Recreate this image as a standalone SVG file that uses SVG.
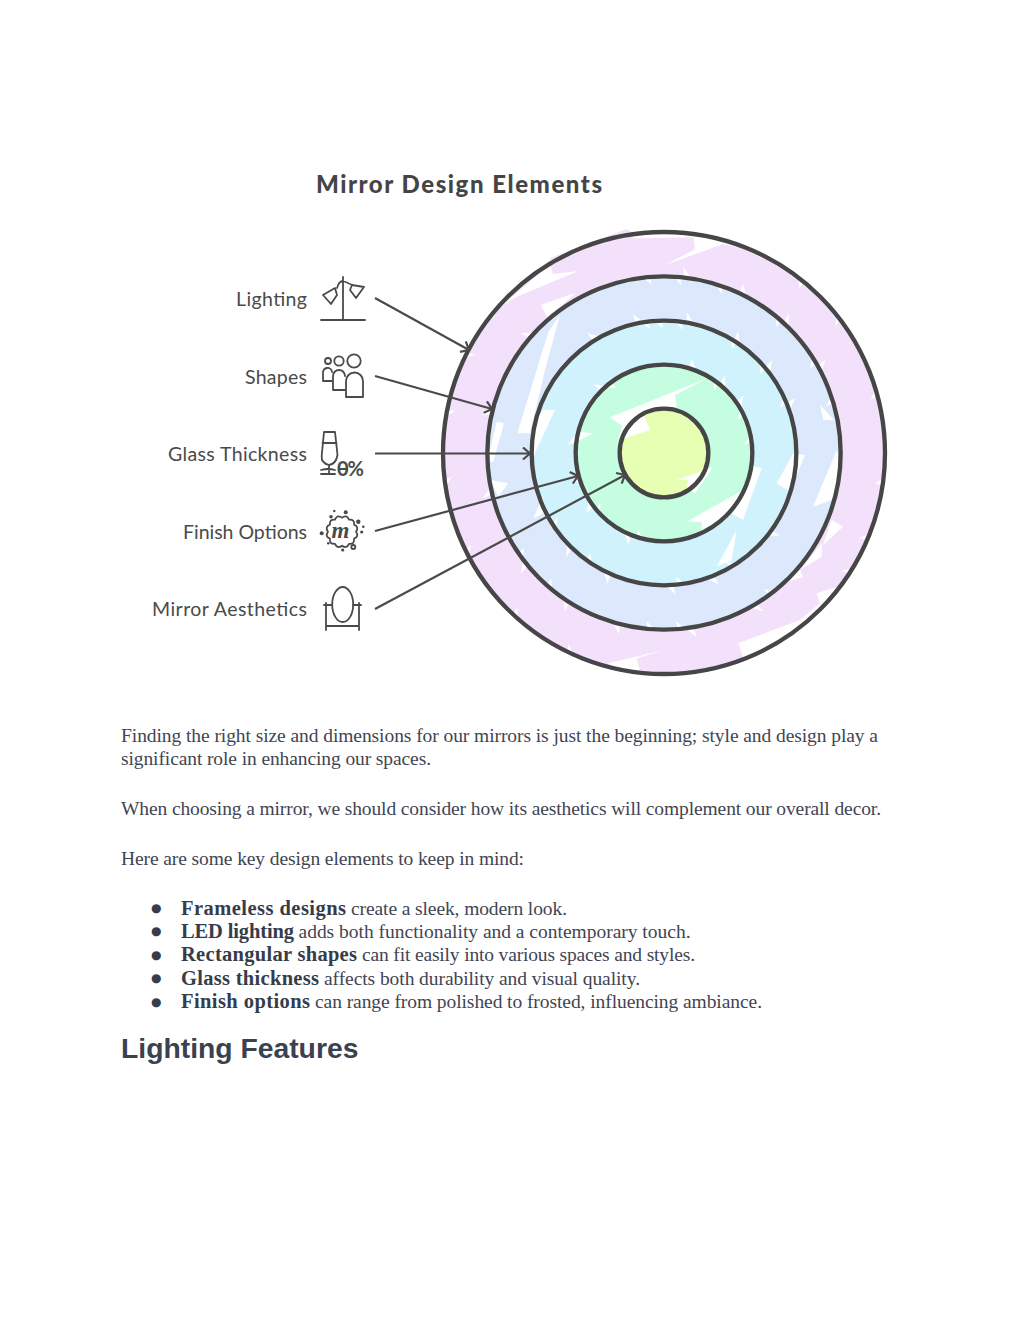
<svg xmlns="http://www.w3.org/2000/svg" width="1024" height="1325" viewBox="0 0 1024 1325">
<style>
.ttl{font-family:"Lato","Noto Sans",sans-serif;font-weight:900;font-size:24px;fill:#454545}
.lbl{font-family:"Lato","Noto Sans",sans-serif;font-size:19.500px;fill:#4a4a4a}
.b{font-family:"Liberation Serif","Times New Roman",serif;font-size:19.500px;fill:#3f4553}
.bb{font-family:"Liberation Serif","Times New Roman",serif;font-size:20.500px;font-weight:700;fill:#363c4a}
.dot{font-family:"DejaVu Sans",sans-serif;font-size:12px;fill:#363c4a}
.h{font-family:"Liberation Sans",Arial,sans-serif;font-size:28.300px;font-weight:700;fill:#3a4150}
.ring{stroke:#464646;stroke-width:13;fill:none}
.w{fill:#fff}
.ic{fill:none;stroke:#4a4a4a;stroke-width:1.800;stroke-linecap:round;stroke-linejoin:round}
.icf{fill:#4a4a4a}
.con{fill:none;stroke:#4a4a4a;stroke-width:2.200;marker-end:url(#arr)}
</style>
<defs>
<marker id="arr" markerUnits="userSpaceOnUse" markerWidth="14" markerHeight="14" refX="9" refY="7" orient="auto">
<path d="M2,1 L9,7 L2,13" fill="none" stroke="#4a4a4a" stroke-width="2.200"/>
</marker>
<path id="n" fill="#fff" d="M-12,-4 L12,-4 L17,24 Z"/>
<path id="o" fill="#fff" d="M-14,4 L12,4 L-20,-30 Z"/>
</defs>
<rect width="1024" height="1325" fill="#fff"/>
<text class="ttl" x="316" y="193" textLength="286" lengthAdjust="spacing">Mirror Design Elements</text>

<g id="rings" transform="translate(430 220) scale(.33333)">
<g id="ring-lighting">
<circle cx="702" cy="699" r="663" fill="#f3e1fb"/>
<polygon points="360,114 590,27 620,45 370,135" fill="#f3e1fb"/>
<g transform="translate(702 699)">
<use href="#n" transform="rotate(38) translate(0 -663)"/><use href="#n" transform="rotate(52) translate(0 -663)"/><use href="#n" transform="rotate(74) translate(0 -663)"/><use href="#n" transform="rotate(97) translate(0 -663)"/><use href="#n" transform="rotate(112) translate(0 -663)"/><use href="#n" transform="rotate(122) translate(0 -663)"/><use href="#n" transform="rotate(205) translate(0 -663)"/><use href="#n" transform="rotate(222) translate(0 -663)"/><use href="#n" transform="rotate(243) translate(0 -663)"/><use href="#n" transform="rotate(262) translate(0 -663)"/><use href="#n" transform="rotate(280) translate(0 -663)"/><use href="#n" transform="rotate(296) translate(0 -663)"/>
<use href="#o" transform="rotate(8) translate(0 -530)"/><use href="#o" transform="rotate(27) translate(0 -530)"/><use href="#o" transform="rotate(44) translate(0 -530)"/><use href="#o" transform="rotate(62) translate(0 -530)"/><use href="#o" transform="rotate(150) translate(0 -530)"/><use href="#o" transform="rotate(172) translate(0 -530)"/><use href="#o" transform="rotate(196) translate(0 -530)"/><use href="#o" transform="rotate(214) translate(0 -530)"/><use href="#o" transform="rotate(232) translate(0 -530)"/><use href="#o" transform="rotate(258) translate(0 -530)"/><use href="#o" transform="rotate(284) translate(0 -530)"/><use href="#o" transform="rotate(312) translate(0 -530)"/>
</g>
<polygon class="w" points="610,55 790,52 795,88 705,135 880,72 995,100 900,25 700,15 600,25"/>
<polygon class="w" points="445,153 368,162 362,133 205,265 260,230"/>
<polygon class="w" points="332,255 351,290 390,260 435,219"/>
<polygon class="w" points="925,1270 1110,1200 1170,1150 1160,1120 1222,1100 1235,1120 1000,1335 940,1312"/>
<polygon class="w" points="534,1330 705,1290 620,1315 630,1355 560,1350"/>
<polygon class="w" points="1205,900 1239,920 1179,975"/>
<polygon class="w" points="1110,1050 1175,1010 1175,970"/>
<polygon class="w" points="1005,1110 1119,1070 1110,1050"/>
<circle class="ring" cx="702" cy="699" r="663"/>
</g>
<g id="ring-shapes">
<circle cx="702" cy="699" r="530" fill="#dce8fb"/>
<g transform="translate(702 699)">
<use href="#n" transform="rotate(-6) translate(0 -530)"/><use href="#n" transform="rotate(4) translate(0 -530)"/><use href="#n" transform="rotate(18) translate(0 -530)"/><use href="#n" transform="rotate(40) translate(0 -530)"/><use href="#n" transform="rotate(58) translate(0 -530)"/><use href="#n" transform="rotate(72) translate(0 -530)"/><use href="#n" transform="rotate(142) translate(0 -530)"/><use href="#n" transform="rotate(174) translate(0 -530)"/><use href="#n" transform="rotate(184) translate(0 -530)"/><use href="#n" transform="rotate(220) translate(0 -530)"/><use href="#n" transform="rotate(234) translate(0 -530)"/>
<use href="#o" transform="rotate(-10) translate(0 -397)"/><use href="#o" transform="rotate(12) translate(0 -397)"/><use href="#o" transform="rotate(34) translate(0 -397)"/><use href="#o" transform="rotate(52) translate(0 -397)"/><use href="#o" transform="rotate(70) translate(0 -397)"/><use href="#o" transform="rotate(128) translate(0 -397)"/><use href="#o" transform="rotate(160) translate(0 -397)"/><use href="#o" transform="rotate(178) translate(0 -397)"/><use href="#o" transform="rotate(206) translate(0 -397)"/><use href="#o" transform="rotate(226) translate(0 -397)"/><use href="#o" transform="rotate(330) translate(0 -397)"/>
</g>
<polygon class="w" points="390,285 355,335 262,640 300,640 345,450"/>
<polygon class="w" points="200,605 222,610 190,725 172,725"/>
<polygon class="w" points="180,780 234,790 205,830"/>
<polygon class="w" points="1220,690 1149,860 1205,840 1232,740"/>
<polygon class="w" points="1170,555 1212,600 1180,600"/>
<circle class="ring" cx="702" cy="699" r="530"/>
</g>
<g id="ring-glass">
<circle cx="702" cy="699" r="397" fill="#cff2fd"/>
<g transform="translate(702 699)">
<use href="#n" transform="rotate(-9) translate(0 -397)"/><use href="#n" transform="rotate(-3) translate(0 -397)"/><use href="#n" transform="rotate(6) translate(0 -397)"/><use href="#n" transform="rotate(31) translate(0 -397)"/><use href="#n" transform="rotate(48) translate(0 -397)"/><use href="#n" transform="rotate(66) translate(0 -397)"/><use href="#n" transform="rotate(148) translate(0 -397)"/><use href="#n" transform="rotate(172) translate(0 -397)"/><use href="#n" transform="rotate(214) translate(0 -397)"/><use href="#n" transform="rotate(236) translate(0 -397)"/>
<use href="#o" transform="rotate(20) translate(0 -265)"/><use href="#o" transform="rotate(42) translate(0 -265)"/><use href="#o" transform="rotate(58) translate(0 -265)"/><use href="#o" transform="rotate(205) translate(0 -265)"/><use href="#o" transform="rotate(236) translate(0 -265)"/><use href="#o" transform="rotate(255) translate(0 -265)"/><use href="#o" transform="rotate(318) translate(0 -265)"/>
</g>
<polygon class="w" points="340,570 375,570 312,705 298,690 310,600"/>
<polygon class="w" points="338,830 310,895 342,880"/>
<polygon class="w" points="960,735 995,745 939,900 905,880"/>
<polygon class="w" points="1090,700 1125,705 1080,815 1040,790"/>
<polygon class="w" points="920,930 860,1040 905,1020"/>
<circle class="ring" cx="702" cy="699" r="397"/>
</g>
<g id="ring-finish">
<circle cx="702" cy="699" r="265" fill="#c5fde1"/>
<g transform="translate(702 699)">
<use href="#n" transform="rotate(35) translate(0 -265)"/><use href="#n" transform="rotate(62) translate(0 -265)"/><use href="#n" transform="rotate(80) translate(0 -265)"/><use href="#n" transform="rotate(195) translate(0 -265)"/><use href="#n" transform="rotate(228) translate(0 -265)"/><use href="#n" transform="rotate(320) translate(0 -265)"/>
</g>
<polygon class="w" points="540,592 832,475 735,525 740,560 640,570 572,615"/>
<polygon class="w" points="770,905 930,815 905,880 815,930 815,905"/>
<polygon class="w" points="412,675 445,635 490,640 450,660"/>
<circle class="ring" cx="702" cy="699" r="265"/>
</g>
<g id="ring-aesthetics">
<circle cx="702" cy="699" r="133" fill="#e6ffb3"/>
<polygon class="w" points="585,655 660,630 635,570 580,600 565,660"/>
<polygon class="w" points="740,780 850,740 795,820 770,800 775,780"/>
<circle class="ring" cx="702" cy="699" r="133"/>
</g>
</g>

<g id="connectors">
<path class="con" d="M375,298 L469,350"/>
<path class="con" d="M375,376 L492,409"/>
<path class="con" d="M375,453.500 L530,453.500"/>
<path class="con" d="M375,531 L578,476"/>
<path class="con" d="M375,609 L625,475"/>
</g>

<g id="node-lighting">
<text class="lbl" x="236" y="306" textLength="71" lengthAdjust="spacing">Lighting</text>
<path class="ic" d="M343,277 V320 M321,320 H365 M337,288 Q339,281 343,281 Q346,282 352,285 M323,295 L335,288 L337,295 L331,304 Z M352,285 L364,287 L356,298 L350,290 Z"/>
</g>
<g id="node-shapes">
<text class="lbl" x="245" y="384" textLength="62" lengthAdjust="spacing">Shapes</text>
<g class="ic">
<circle cx="328" cy="361" r="3"/><circle cx="339" cy="361" r="4.700"/><circle cx="354" cy="361" r="6.700"/>
<path d="M332,381 H323 V373 A4.500,4.500 0 0 1 332,372"/>
<path d="M345,390 H333 V376 A6,6 0 0 1 345,376"/>
<path d="M346,397 H363 V381 A8.500,8.500 0 0 0 346,381 Z"/>
</g>
</g>
<g id="node-glass">
<text class="lbl" x="168" y="461" textLength="139" lengthAdjust="spacing">Glass Thickness</text>
<path class="ic" d="M324,432 H335 L337.500,455 Q336,464 329,465 Q321,463 321.700,456 Z M322.500,443 H336.500 M329,465 V473 M321,470 Q328,468 335,470 M321,474 H335 M339.500,469 H347"/>
<text x="337" y="476" font-family="Lato,sans-serif" font-weight="700" font-size="20" fill="#4a4a4a" textLength="27" lengthAdjust="spacing">0%</text>
</g>
<g id="node-finish">
<text class="lbl" x="183" y="539" textLength="124" lengthAdjust="spacing">Finish Options</text>
<path class="ic" stroke-width="2" d="M356,531.700 Q359.400,536.400 354.100,538.700 Q354.700,544.400 349,543.800 Q346.700,549.100 342,545.700 Q337.300,549.100 335,543.800 Q329.300,544.400 329.900,538.700 Q324.600,536.400 328,531.700 Q324.600,527 329.900,524.700 Q329.300,519 335,519.600 Q337.300,514.300 342,517.700 Q346.700,514.300 349,519.600 Q354.700,519 354.100,524.700 Q359.400,527 356,531.700 Z"/>
<text x="331.500" y="538" font-family="Liberation Serif,serif" font-style="italic" font-weight="700" font-size="23" fill="#4a4a4a">m</text>
<g class="icf">
<circle cx="334.300" cy="511" r="1.200"/><circle cx="345.700" cy="512.300" r="2"/><circle cx="331" cy="516.700" r="1.800"/><circle cx="358.300" cy="521.700" r="2.200"/><circle cx="363.300" cy="526.700" r="1.300"/><circle cx="361.700" cy="532" r="1.600"/><circle cx="321.700" cy="533.300" r="2"/><circle cx="328.300" cy="543.300" r="1.300"/><circle cx="342.700" cy="550" r="1.600"/>
</g>
<circle class="ic" cx="353.300" cy="547" r="2"/>
</g>
<g id="node-mirror">
<text class="lbl" x="152" y="616" textLength="155" lengthAdjust="spacing">Mirror Aesthetics</text>
<path class="ic" d="M326,603 V630 M359,603 V630 M326,626 H359 M324,605 H332 M353,605 H361"/>
<ellipse class="ic" cx="342.700" cy="604.500" rx="10.500" ry="17.500" fill="#fff"/>
</g>

<g id="body">
<text class="b" x="121" y="742" textLength="757" lengthAdjust="spacing">Finding the right size and dimensions for our mirrors is just the beginning; style and design play a</text>
<text class="b" x="121" y="765" textLength="310" lengthAdjust="spacing">significant role in enhancing our spaces.</text>
<text class="b" x="121" y="815" textLength="760" lengthAdjust="spacing">When choosing a mirror, we should consider how its aesthetics will complement our overall decor.</text>
<text class="b" x="121" y="865" textLength="403" lengthAdjust="spacing">Here are some key design elements to keep in mind:</text>
<text class="dot" x="151" y="912">●</text>
<text class="bb" x="181" y="915" textLength="165" lengthAdjust="spacing">Frameless designs</text>
<text class="b" x="351" y="915" textLength="216" lengthAdjust="spacing">create a sleek, modern look.</text>
<text class="dot" x="151" y="935">●</text>
<text class="bb" x="181" y="938" textLength="113" lengthAdjust="spacing">LED lighting</text>
<text class="b" x="298.500" y="938" textLength="392" lengthAdjust="spacing">adds both functionality and a contemporary touch.</text>
<text class="dot" x="151" y="959">●</text>
<text class="bb" x="181" y="961" textLength="176" lengthAdjust="spacing">Rectangular shapes</text>
<text class="b" x="362" y="961" textLength="333" lengthAdjust="spacing">can fit easily into various spaces and styles.</text>
<text class="dot" x="151" y="982">●</text>
<text class="bb" x="181" y="985" textLength="138" lengthAdjust="spacing">Glass thickness</text>
<text class="b" x="324" y="985" textLength="316" lengthAdjust="spacing">affects both durability and visual quality.</text>
<text class="dot" x="151" y="1005.500">●</text>
<text class="bb" x="181" y="1008" textLength="129" lengthAdjust="spacing">Finish options</text>
<text class="b" x="315" y="1008" textLength="447" lengthAdjust="spacing">can range from polished to frosted, influencing ambiance.</text>
<text class="h" x="121" y="1058">Lighting Features</text>
</g>
</svg>
